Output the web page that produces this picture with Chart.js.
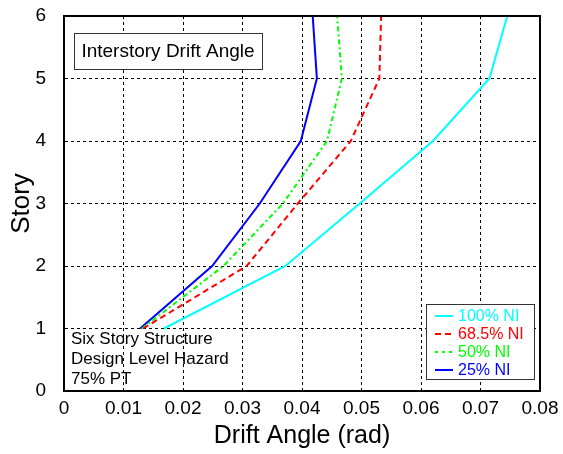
<!DOCTYPE html>
<html>
<head>
<meta charset="utf-8">
<script src="https://cdn.jsdelivr.net/npm/chart.js@4.4.0/dist/chart.umd.min.js"></script>
<style>
  html, body { margin: 0; padding: 0; background: #fff; }
  #wrap { width: 563px; height: 454px; }
</style>
</head>
<body>
<div id="wrap"><canvas id="grafico"></canvas></div>
<script>
// stories (y) and drift angles (x)
const stories = [1, 2, 3, 4, 5, 6];
const ni100 = [0.0168, 0.0372, 0.0497, 0.0620, 0.0715, 0.0745];
const ni685 = [0.0133, 0.0307, 0.0393, 0.0482, 0.0530, 0.0533];
const ni50 = [0.0131, 0.0268, 0.0368, 0.0442, 0.0467, 0.0459];
const ni25 = [0.0128, 0.0249, 0.0329, 0.0398, 0.0425, 0.0418];

const xTicks = [0, 0.01, 0.02, 0.03, 0.04, 0.05, 0.06, 0.07, 0.08];
const yTicks = [0, 1, 2, 3, 4, 5, 6];
const xTickLabels = ['0', '0.01', '0.02', '0.03', '0.04', '0.05', '0.06', '0.07', '0.08'];

const noteLines = ['Six Story Structure', 'Design Level Hazard', '75% PT'];
const boxTitle = 'Interstory Drift Angle';

const FONT = '"Liberation Sans", Arial, sans-serif';

function pts(xs) {
  return xs.map((x, i) => ({ x: x, y: stories[i] }));
}

// title box, notes, legend and frame drawn on top of the plot
const extras = {
  id: 'extras',
  afterDraw(chart) {
    const ctx = chart.ctx;
    const a = chart.chartArea;
    ctx.save();

    // frame
    ctx.strokeStyle = '#000';
    ctx.lineWidth = 2;
    ctx.setLineDash([]);
    ctx.strokeRect(a.left, a.top, a.right - a.left, a.bottom - a.top);

    // title box
    ctx.fillStyle = '#fff';
    ctx.fillRect(a.left + 10, a.top + 17, 188, 36);
    ctx.strokeStyle = '#333';
    ctx.lineWidth = 1;
    ctx.strokeRect(a.left + 10.5, a.top + 17.5, 188, 36);
    ctx.fillStyle = '#000';
    ctx.font = '19px ' + FONT;
    ctx.textAlign = 'center';
    ctx.textBaseline = 'middle';
    ctx.fillText(boxTitle, a.left + 104, a.top + 36);

    // notes
    ctx.font = '17px ' + FONT;
    ctx.textAlign = 'left';
    noteLines.forEach((t, i) => {
      ctx.fillText(t, a.left + 7, a.bottom - 52 + i * 20);
    });

    // legend
    const lx = a.right - 114, ly = a.bottom - 87;
    ctx.fillStyle = '#fff';
    ctx.fillRect(lx, ly, 108, 75);
    ctx.strokeStyle = '#333';
    ctx.lineWidth = 1;
    ctx.strokeRect(lx + 0.5, ly + 0.5, 108, 75);
    ctx.font = '16px ' + FONT;
    chart.data.datasets.forEach((ds, i) => {
      const yy = ly + 12 + i * 18;
      ctx.strokeStyle = ds.borderColor;
      ctx.lineWidth = 2;
      ctx.setLineDash(ds.legendDash);
      ctx.beginPath();
      ctx.moveTo(lx + 9, yy);
      ctx.lineTo(lx + 27, yy);
      ctx.stroke();
      ctx.setLineDash([]);
      ctx.fillStyle = ds.borderColor;
      ctx.fillText(ds.label, lx + 32, yy + 1);
    });
    ctx.restore();
  }
};

new Chart(document.getElementById('grafico'), {
  type: 'line',
  data: {
    datasets: [{
      label: '100% NI',
      data: pts(ni100),
      borderColor: '#00FFFF',
      borderWidth: 2,
      borderDash: [],
      legendDash: []
    },
    {
      label: '68.5% NI',
      data: pts(ni685),
      borderColor: '#FF0000',
      borderWidth: 2,
      borderDash: [6, 4],
      legendDash: [6, 4]
    },
    {
      label: '50% NI',
      data: pts(ni50),
      borderColor: '#00FF00',
      borderWidth: 2,
      borderDash: [5, 3, 2, 3],
      legendDash: [3, 4]
    },
    {
      label: '25% NI',
      data: pts(ni25),
      borderColor: '#0000FF',
      borderWidth: 2,
      borderDash: [],
      legendDash: []
    }]
  },
  plugins: [extras],
  options: {
    responsive: true,
    maintainAspectRatio: false,
    animation: false,
    events: [],
    layout: { padding: { left: 0, right: 23, top: 16, bottom: 0 } },
    elements: {
      point: { radius: 0 },
      line: { tension: 0, borderCapStyle: 'butt' }
    },
    plugins: {
      legend: { display: false },
      tooltip: { enabled: false }
    },
    scales: {
      x: {
        type: 'linear',
        min: 0,
        max: 0.08,
        afterBuildTicks: s => { s.ticks = xTicks.map(v => ({ value: v })); },
        afterFit: s => { s.height = 63; s.paddingLeft = 0; s.paddingRight = 0; },
        ticks: {
          color: '#000',
          font: { family: FONT, size: 19 },
          padding: 6,
          maxRotation: 0,
          callback: (v) => xTickLabels[xTicks.indexOf(v)] ?? String(v)
        },
        grid: { color: '#000', lineWidth: 1, drawTicks: false },
        border: { display: true, color: '#000', width: 2, dash: [3, 3] },
        title: {
          display: true,
          text: 'Drift Angle (rad)',
          color: '#000',
          font: { family: FONT, size: 25 },
          padding: { top: 0, bottom: 3 }
        }
      },
      y: {
        type: 'linear',
        min: 0,
        max: 6,
        afterBuildTicks: s => { s.ticks = yTicks.map(v => ({ value: v })); },
        afterFit: s => { s.width = 64; s.paddingTop = 0; s.paddingBottom = 0; },
        ticks: {
          color: '#000',
          font: { family: FONT, size: 19 },
          padding: 18
        },
        grid: { color: '#000', lineWidth: 1, drawTicks: false },
        border: { display: true, color: '#000', width: 2, dash: [3, 3] },
        title: {
          display: true,
          text: 'Story',
          color: '#000',
          font: { family: FONT, size: 26 },
          padding: { top: 6, bottom: 0 }
        }
      }
    }
  }
});
</script>
</body>
</html>
